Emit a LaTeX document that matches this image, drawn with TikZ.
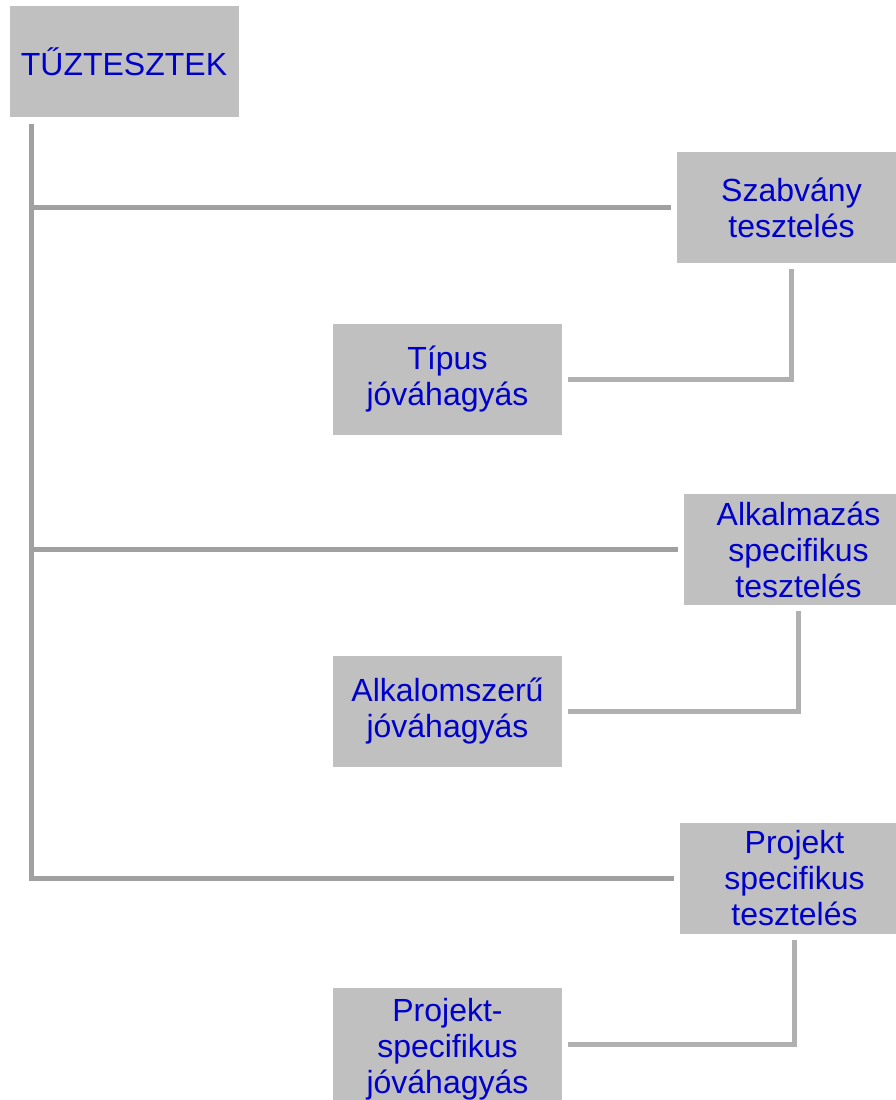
\documentclass[tikz,border=0pt]{standalone}
\usepackage{fontspec}
\setmainfont{Liberation Sans}
\usepackage{xcolor}
\definecolor{boxgray}{HTML}{C0C0C0}
\definecolor{txtblue}{HTML}{0000CC}
\definecolor{linegray}{HTML}{A0A0A0}
\definecolor{sublinegray}{HTML}{B0B0B0}

\begin{document}
\begin{tikzpicture}[x=1pt,y=-1pt,
	box/.style={fill=boxgray, text=txtblue, minimum width=229pt, minimum height=111pt, inner sep=0pt, align=center, font=\fontsize{32}{36}\selectfont},
	trunkline/.style={draw=linegray, line width=5pt},
	subline/.style={draw=sublinegray, line width=5pt}]
\clip (0,0) rectangle (896,1100);

\node[box] (root) at (124,61.5) {TŰZTESZTEK};
\node[box] (szab) at (791.5,207.5) {Szabvány\\tesztelés};
\node[box] (tipus) at (447.5,379.5) {Típus\\jóváhagyás};
\node[box] (alk) at (798.5,549.5) {Alkalmazás\\specifikus\\tesztelés};
\node[box] (alkal) at (447.5,711.5) {Alkalomszerű\\jóváhagyás};
\node[box] (proj) at (794.5,878) {Projekt\\specifikus\\tesztelés};
\node[box, minimum height=123pt] (projj) at (447.5,1049.5) {Projekt-\\specifikus\\jóváhagyás}; % runs off the page

\coordinate (top) at ([xshift=22pt,yshift=-7pt]root.south west);
\draw[trunkline] (top) |- ([xshift=-6pt]proj.west);
\foreach \m/\s/\dy in {szab/tipus/0, alk/alkal/0, proj/projj/5} {
	\draw[trunkline] (top |- \m.west) -- ([xshift=-6pt]\m.west);
	\draw[subline] ([yshift=-6pt]\m.south) |- ([xshift=6pt,yshift=\dy pt]\s.east);
}
\end{tikzpicture}
\end{document}
